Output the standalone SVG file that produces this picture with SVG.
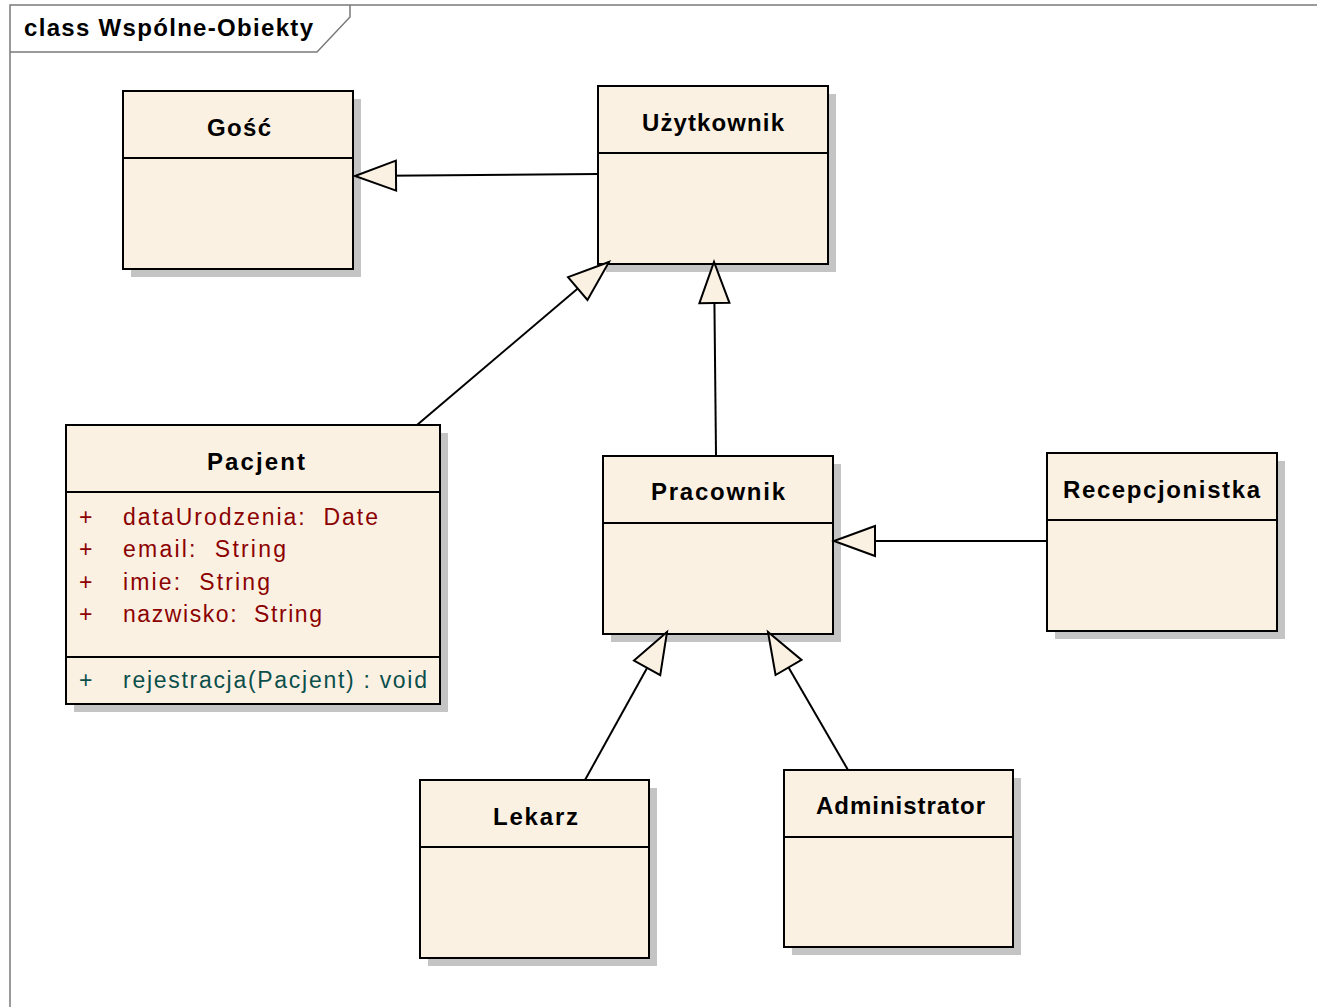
<svg xmlns="http://www.w3.org/2000/svg" width="1317" height="1007" viewBox="0 0 1317 1007">
<style>
.box{fill:#fbf1e3;stroke:#000;stroke-width:2}
.sh{fill:#c4c4c4}
.div{stroke:#000;stroke-width:2}
.name{font-family:"Liberation Sans",Arial,sans-serif;font-weight:bold;font-size:24px;fill:#000}
.title{font-family:"Liberation Sans",Arial,sans-serif;font-weight:bold;font-size:24px;fill:#000}
.attr{font-family:"Liberation Sans",Arial,sans-serif;font-size:23px;fill:#8b0000;white-space:pre}
.meth{font-family:"Liberation Sans",Arial,sans-serif;font-size:23px;fill:#0b4f4b;white-space:pre}
.conn{stroke:#000;stroke-width:2;fill:none;marker-end:url(#gen)}
.frame{stroke:#7a7a7a;stroke-width:1.5;fill:none}
</style>
<defs>
<marker id="gen" markerUnits="userSpaceOnUse" markerWidth="46" markerHeight="36" refX="43" refY="17" orient="auto" overflow="visible">
<path d="M2,2 L43,17 L2,32 Z" fill="#fbf1e3" stroke="#000" stroke-width="2" stroke-linejoin="miter"/>
</marker>
</defs>
<rect width="1317" height="1007" fill="#fff"/>
<g id="frame">
<path class="frame" d="M10,1007 L10,5 L1317,5"/>
<path class="frame" d="M10,52 L317,52 L350,17 L350,5"/>
<text x="24" y="36" class="title" textLength="289" lengthAdjust="spacing">class Wspólne-Obiekty</text>
</g>
<g id="gosc">
<rect class="sh" x="131" y="99" width="230" height="178"/>
<rect class="box" x="123" y="91" width="230" height="178"/>
<line class="div" x1="123" y1="158" x2="353" y2="158"/>
<text class="name" x="207" y="136" textLength="64" lengthAdjust="spacing">Gość</text>
</g>
<g id="uzytkownik">
<rect class="sh" x="606" y="94" width="230" height="178"/>
<rect class="box" x="598" y="86" width="230" height="178"/>
<line class="div" x1="598" y1="153" x2="828" y2="153"/>
<text class="name" x="642" y="131" textLength="142" lengthAdjust="spacing">Użytkownik</text>
</g>
<g id="pacjent">
<rect class="sh" x="74" y="433" width="374" height="279"/>
<rect class="box" x="66" y="425" width="374" height="279"/>
<line class="div" x1="66" y1="492" x2="440" y2="492"/>
<line class="div" x1="66" y1="657" x2="440" y2="657"/>
<text class="name" x="207" y="470" textLength="98" lengthAdjust="spacing">Pacjent</text>
<text class="attr" x="79" y="525">+</text>
<text class="attr" x="123" y="525" textLength="255" lengthAdjust="spacing">dataUrodzenia:  Date</text>
<text class="attr" x="79" y="557">+</text>
<text class="attr" x="123" y="557" textLength="163" lengthAdjust="spacing">email:  String</text>
<text class="attr" x="79" y="590">+</text>
<text class="attr" x="123" y="590" textLength="147" lengthAdjust="spacing">imie:  String</text>
<text class="attr" x="79" y="622">+</text>
<text class="attr" x="123" y="622" textLength="199" lengthAdjust="spacing">nazwisko:  String</text>
<text class="meth" x="79" y="688">+</text>
<text class="meth" x="123" y="688" textLength="304" lengthAdjust="spacing">rejestracja(Pacjent) : void</text>
</g>
<g id="pracownik">
<rect class="sh" x="611" y="464" width="230" height="178"/>
<rect class="box" x="603" y="456" width="230" height="178"/>
<line class="div" x1="603" y1="523" x2="833" y2="523"/>
<text class="name" x="651" y="500" textLength="134" lengthAdjust="spacing">Pracownik</text>
</g>
<g id="recepcjonistka">
<rect class="sh" x="1055" y="461" width="230" height="178"/>
<rect class="box" x="1047" y="453" width="230" height="178"/>
<line class="div" x1="1047" y1="520" x2="1277" y2="520"/>
<text class="name" x="1063" y="498" textLength="197" lengthAdjust="spacing">Recepcjonistka</text>
</g>
<g id="lekarz">
<rect class="sh" x="428" y="788" width="229" height="178"/>
<rect class="box" x="420" y="780" width="229" height="178"/>
<line class="div" x1="420" y1="847" x2="649" y2="847"/>
<text class="name" x="493" y="825" textLength="85" lengthAdjust="spacing">Lekarz</text>
</g>
<g id="administrator">
<rect class="sh" x="792" y="778" width="229" height="177"/>
<rect class="box" x="784" y="770" width="229" height="177"/>
<line class="div" x1="784" y1="837" x2="1013" y2="837"/>
<text class="name" x="816" y="814" textLength="169" lengthAdjust="spacing">Administrator</text>
</g>
<g id="connectors">
<line class="conn" x1="598" y1="174" x2="355" y2="176"/>
<line class="conn" x1="417" y1="425" x2="609" y2="262"/>
<line class="conn" x1="716" y1="455" x2="714" y2="262"/>
<line class="conn" x1="1047" y1="541" x2="834" y2="541"/>
<line class="conn" x1="585" y1="780" x2="667" y2="632"/>
<line class="conn" x1="848" y1="770" x2="768" y2="632"/>
</g>
</svg>
